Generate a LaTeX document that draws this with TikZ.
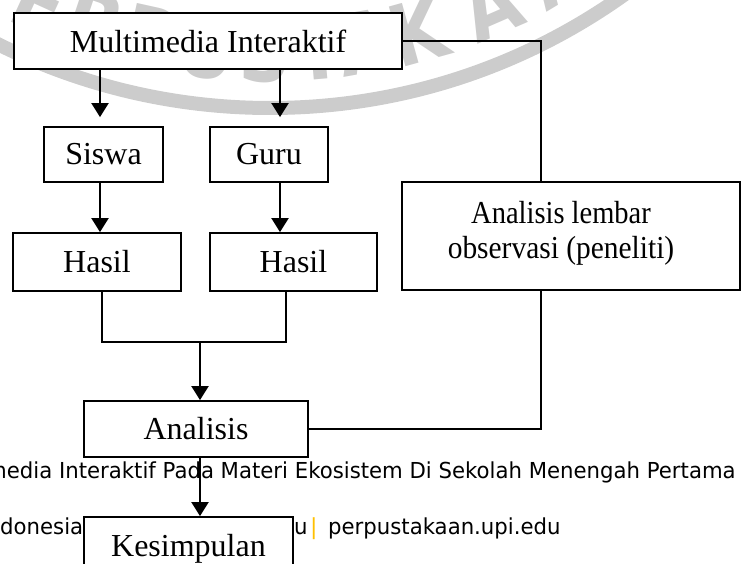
\documentclass[tikz,border=0pt]{standalone}
\usepackage{fontspec}
\setmainfont{Liberation Serif}
\newfontfamily\footfont{DejaVu Sans}
\newfontfamily\wmfont{DejaVu Sans}
\usetikzlibrary{arrows.meta,calc}
\definecolor{wmgray}{RGB}{204,204,204}
\definecolor{upiyellow}{RGB}{255,192,0}
\newcommand{\ftxt}[1]{\scalebox{0.965}[1]{#1}}
\begin{document}
\begin{tikzpicture}[x=1pt,y=-1pt,
  box/.style={draw, line width=1.8pt, fill=white, inner sep=0pt, align=center,
    font=\fontsize{32}{35}\selectfont},
  boxtext/.style={inner sep=0pt, align=center, font=\fontsize{32}{35}\selectfont},
  arr/.style={line width=2pt, -{Triangle[length=14pt,width=17pt]}},
  link/.style={line width=1.6pt},
  wmletter/.style={text=wmgray, font=\wmfont\bfseries\fontsize{85}{85}\selectfont, anchor=base, inner sep=0pt},
  foot/.style={font=\footfont\fontsize{22}{22}\selectfont, anchor=base west, inner sep=0pt}]
\useasboundingbox (0,0) rectangle (741,564);
\clip (0,0) rectangle (741,564);
% watermark
\draw[wmgray, line width=14pt] (270,-502) circle[radius=610];
\foreach \ch/\a in {P/-30,E/-24.5,R/-18.5,P/-12.5,U/-6.5,S/-0.5,T/5,A/10,K/15.5,A/23.5,A/31,N/38.5}
  \node[wmletter, rotate=\a] at ({270+584*sin(\a)},{-502+584*cos(\a)}) {\scalebox{0.85}[1]{\ch}};
% footer text
\node[foot] (f1) at (-14,478) {\ftxt{media Interaktif Pada Materi Ekosistem Di Sekolah Menengah Pertama}};
\node[foot] (f2) at (0,534) {\ftxt{donesia}};
\node[foot] (f3) at (294,534) {\ftxt{u}};
\node[foot, text=upiyellow] (f4) at (310,534) {|};
\node[foot] (f5) at (328,534) {\ftxt{perpustakaan.upi.edu}};
% boxes
\node[box, minimum width=388pt, minimum height=56pt] (mi) at (208,41) {Multimedia Interaktif};
\node[box, minimum width=119pt, minimum height=55pt] (siswa) at (103.5,154.5) {Siswa};
\node[box, minimum width=118pt, minimum height=55pt] (guru) at (269,154.5) {Guru};
\node[box, minimum width=168pt, minimum height=58pt] (hasil1) at (97,262) {Hasil};
\node[box, minimum width=167pt, minimum height=58pt] (hasil2) at (293.5,262) {Hasil};
\node[box, minimum width=338pt, minimum height=108pt] (al) at (571,236) {};
\node[boxtext] (altext) at (561,233) {\scalebox{0.89}[1]{Analisis lembar}\\\scalebox{0.92}[1]{observasi (peneliti)}};
\node[box, minimum width=224pt, minimum height=56pt] (analisis) at (196,429) {Analisis};
\node[box, minimum width=209pt, minimum height=64pt] (kes) at (188.5,549) {Kesimpulan};
% helper coordinates
\coordinate (x1) at (100,0);
\coordinate (x2) at (280,0);
\coordinate (xa) at (102,0);
\coordinate (xb) at (286,0);
\coordinate (j) at (200,342);
\coordinate (xr) at (541,0);
% connectors
\draw[arr, shorten >=9pt] (mi.south -| x1) -- (siswa.north -| x1);
\draw[arr, shorten >=9pt] (mi.south -| x2) -- (guru.north -| x2);
\draw[arr] (siswa.south -| x1) -- (hasil1.north -| x1);
\draw[arr] (guru.south -| x2) -- (hasil2.north -| x2);
\draw[link] (hasil1.south -| xa) -- (xa |- j) -- (xb |- j) -- (hasil2.south -| xb);
\draw[arr] (j) -- (analisis.north -| j);
\draw[arr] (analisis.south -| j) -- (kes.north -| j);
\draw[link] (mi.east) -| (al.north -| xr);
\draw[link] (analisis.east) -| (al.south -| xr);
\end{tikzpicture}
\end{document}
